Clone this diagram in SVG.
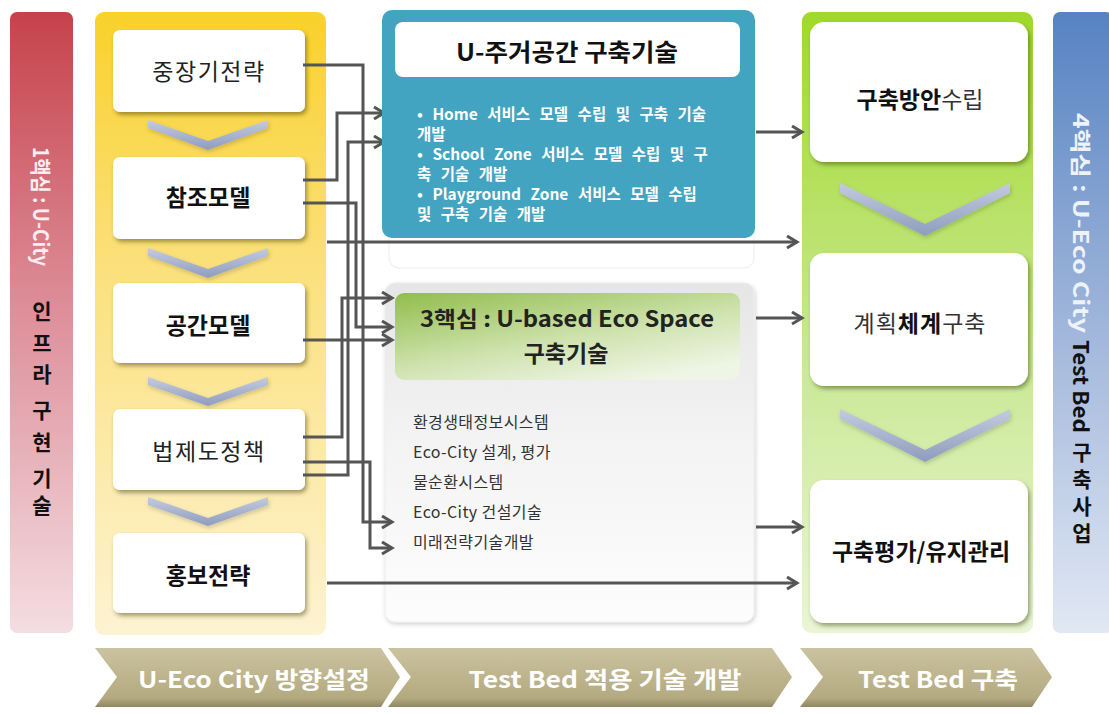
<svg xmlns="http://www.w3.org/2000/svg" width="1109" height="714" viewBox="0 0 1109 714">
<defs>
<linearGradient id="gRed" x1="0" y1="0" x2="0" y2="1"><stop offset="0" stop-color="#c6424b"/><stop offset="0.45" stop-color="#dc8a95"/><stop offset="1" stop-color="#f4dde2"/></linearGradient>
<linearGradient id="gBlueSide" x1="0" y1="0" x2="0" y2="1"><stop offset="0" stop-color="#5683c3"/><stop offset="0.5" stop-color="#9fb5da"/><stop offset="1" stop-color="#e1e8f4"/></linearGradient>
<linearGradient id="gYellow" x1="0" y1="0" x2="0" y2="1"><stop offset="0" stop-color="#f9d12a"/><stop offset="0.4" stop-color="#fbe07a"/><stop offset="1" stop-color="#fdf3d2"/></linearGradient>
<linearGradient id="gGreen" x1="0" y1="0" x2="0" y2="1"><stop offset="0" stop-color="#a0d928"/><stop offset="0.5" stop-color="#c5e78a"/><stop offset="1" stop-color="#eaf5d6"/></linearGradient>
<linearGradient id="gGray" x1="0" y1="0" x2="0" y2="1"><stop offset="0" stop-color="#e6e6e6"/><stop offset="0.5" stop-color="#f4f4f4"/><stop offset="1" stop-color="#fdfdfd"/></linearGradient>
<linearGradient id="gHead" x1="0" y1="0" x2="0.7" y2="1"><stop offset="0" stop-color="#91bd4b"/><stop offset="0.6" stop-color="#cfe3af"/><stop offset="1" stop-color="#eef5e4"/></linearGradient>
<linearGradient id="gV" x1="0" y1="0" x2="0" y2="1"><stop offset="0" stop-color="#c3cbe0"/><stop offset="1" stop-color="#8f9cbd"/></linearGradient>
<linearGradient id="gChev" x1="0" y1="0" x2="0" y2="1"><stop offset="0" stop-color="#cbc3a0"/><stop offset="0.85" stop-color="#b3aa80"/><stop offset="1" stop-color="#8f8762"/></linearGradient>
<filter id="sh" x="-10%" y="-10%" width="125%" height="130%"><feDropShadow dx="2" dy="3" stdDeviation="2" flood-color="#3a3000" flood-opacity="0.45"/></filter>
<filter id="shG" x="-10%" y="-10%" width="125%" height="130%"><feDropShadow dx="2" dy="3" stdDeviation="2" flood-color="#2a4000" flood-opacity="0.45"/></filter>
<filter id="shL" x="-10%" y="-10%" width="125%" height="130%"><feDropShadow dx="1" dy="2" stdDeviation="2" flood-color="#000" flood-opacity="0.18"/></filter>
<marker id="arr" markerUnits="userSpaceOnUse" markerWidth="14" markerHeight="16" refX="11" refY="7" orient="auto"><path d="M1,1 L11,7 L1,13" fill="none" stroke="#555" stroke-width="3"/></marker>
<style>
text{font-family:"Noto Sans CJK KR","Noto Sans",sans-serif}
.node{fill:#fff}
.nt{font-size:23px;fill:#222;text-anchor:middle;dominant-baseline:central}
.b{font-weight:bold;fill:#111}
.vv{fill:url(#gV)}
.conn{fill:none;stroke:#555;stroke-width:3}
.bul{font-size:15.5px;font-weight:bold;fill:#fff;word-spacing:6px}
.li{font-size:16px;fill:#333;letter-spacing:0.4px}
.side{font-size:21px;font-weight:bold;text-anchor:middle;fill:#111}
.vert{font-size:21px;font-weight:bold;fill:#111;writing-mode:vertical-rl;text-orientation:upright}
.chevT{font-size:23px;font-weight:bold;fill:#fff;text-anchor:middle;dominant-baseline:central}
</style>
</defs>
<rect width="1109" height="714" fill="#fff"/>

<g id="side-left">
<rect x="10" y="12" width="63" height="621" rx="7" fill="url(#gRed)"/>
<text transform="translate(42,147) rotate(90)" font-size="21" font-weight="bold" fill="#fbeef0" dominant-baseline="central" textLength="119" lengthAdjust="spacingAndGlyphs">1핵심 : U-City</text>
<text class="side" x="42" y="319"><tspan x="42">인</tspan><tspan x="42" dy="32">프</tspan><tspan x="42" dy="31">라</tspan><tspan x="42" dy="36">구</tspan><tspan x="42" dy="32">현</tspan><tspan x="42" dy="36">기</tspan><tspan x="42" dy="27">술</tspan></text>
</g>

<g id="side-right">
<rect x="1053" y="12" width="60" height="621" rx="7" fill="url(#gBlueSide)"/>
<text transform="translate(1082,113) rotate(90)" font-size="21" font-weight="bold" fill="#eef2f9" dominant-baseline="central" textLength="220" lengthAdjust="spacingAndGlyphs">4핵심 : U-Eco City</text>
<text transform="translate(1082,340) rotate(90)" font-size="21" font-weight="bold" fill="#111" dominant-baseline="central" textLength="93" lengthAdjust="spacingAndGlyphs">Test Bed</text>
<text class="vert" x="1082" y="442" letter-spacing="6">구축사업</text>
</g>

<g id="panel-yellow">
<rect x="95" y="12" width="231" height="623" rx="9" fill="url(#gYellow)"/>
<polygon class="vv" filter="url(#shL)" points="148,120 208,141 268,120 268,128 208,150 148,128"/>
<polygon class="vv" filter="url(#shL)" points="148,248 208,269 268,248 268,256 208,278 148,256"/>
<polygon class="vv" filter="url(#shL)" points="148,377 208,398 268,377 268,385 208,406 148,385"/>
<polygon class="vv" filter="url(#shL)" points="148,497 208,518 268,497 268,505 208,526 148,505"/>
</g>
<g id="n-midlong"><rect class="node" x="113" y="30" width="192" height="82" rx="7" filter="url(#sh)"/><text class="nt" x="209" y="70" letter-spacing="1.5" fill="#333">중장기전략</text></g>
<g id="n-ref"><rect class="node" x="113" y="157" width="192" height="82" rx="7" filter="url(#sh)"/><text class="nt b" x="208" y="196">참조모델</text></g>
<g id="n-space"><rect class="node" x="113" y="283" width="192" height="80" rx="7" filter="url(#sh)"/><text class="nt b" x="208" y="324">공간모델</text></g>
<g id="n-law"><rect class="node" x="113" y="409" width="192" height="81" rx="7" filter="url(#sh)"/><text class="nt" x="209" y="450" letter-spacing="1.5" fill="#333">법제도정책</text></g>
<g id="n-pr"><rect class="node" x="113" y="533" width="192" height="80" rx="7" filter="url(#sh)"/><text class="nt b" x="208" y="574">홍보전략</text></g>

<g id="panel-green">
<rect x="802" y="12" width="231" height="621" rx="9" fill="url(#gGreen)"/>
<polygon class="vv" filter="url(#shL)" points="840,183 925,224 1010,183 1010,193 925,236 840,193"/>
<polygon class="vv" filter="url(#shL)" points="840,409 925,450 1010,409 1010,419 925,462 840,419"/>
</g>
<g id="n-plan"><rect class="node" x="810" y="22" width="218" height="140" rx="14" filter="url(#shG)"/><text class="nt" x="920" y="98"><tspan font-weight="bold" fill="#111">구축방안</tspan><tspan fill="#333">수립</tspan></text></g>
<g id="n-system"><rect class="node" x="810" y="253" width="218" height="133" rx="14" filter="url(#shG)"/><text class="nt" x="920" y="322" letter-spacing="1"><tspan fill="#333">계획</tspan><tspan font-weight="bold" fill="#111">체계</tspan><tspan fill="#333">구축</tspan></text></g>
<g id="n-eval"><rect class="node" x="810" y="480" width="218" height="143" rx="14" filter="url(#shG)"/><text class="nt b" x="921" y="550">구축평가/유지관리</text></g>

<g id="box-eco">
<rect x="385" y="283" width="369" height="339" rx="10" fill="url(#gGray)" stroke="#ececec" filter="url(#shL)"/>
<rect x="395" y="293" width="345" height="87" rx="9" fill="url(#gHead)"/>
<text x="567" y="317" font-size="22" font-weight="bold" fill="#222" text-anchor="middle" dominant-baseline="central" textLength="294" lengthAdjust="spacingAndGlyphs">3핵심 : U-based Eco Space</text>
<text x="566" y="352" font-size="23" font-weight="bold" fill="#222" text-anchor="middle" dominant-baseline="central">구축기술</text>
<text class="li" x="413" y="428">환경생태정보시스템</text>
<text class="li" x="413" y="458">Eco-City 설계, 평가</text>
<text class="li" x="413" y="488">물순환시스템</text>
<text class="li" x="413" y="518">Eco-City 건설기술</text>
<text class="li" x="413" y="548">미래전략기술개발</text>
</g>
<rect x="389" y="16" width="365" height="252" rx="10" fill="#fff" stroke="#ededed"/>

<g id="connectors">
<path class="conn" marker-end="url(#arr)" d="M303,65 H363 V522 H392"/>
<path class="conn" marker-end="url(#arr)" d="M303,180 H337 V113 H384"/>
<path class="conn" marker-end="url(#arr)" d="M303,203 H356 V327 H392"/>
<path class="conn" marker-end="url(#arr)" d="M303,340 H392"/>
<path class="conn" marker-end="url(#arr)" d="M303,437 H342 V298 H392"/>
<path class="conn" marker-end="url(#arr)" d="M303,462 H370 V548 H392"/>
<path class="conn" marker-end="url(#arr)" d="M303,475 H348 V142 H384"/>
<path class="conn" marker-end="url(#arr)" d="M327,242 H797"/>
<path class="conn" marker-end="url(#arr)" d="M327,583 H797"/>
<path class="conn" marker-end="url(#arr)" d="M756,132 H802"/>
<path class="conn" marker-end="url(#arr)" d="M756,318 H802"/>
<path class="conn" marker-end="url(#arr)" d="M756,527 H802"/>
</g>

<g id="box-house">
<rect x="382" y="10" width="373" height="228" rx="10" fill="#42a4c1"/>
<rect x="395" y="22" width="345" height="55" rx="8" fill="#fff"/>
<text x="567" y="50" font-size="24" font-weight="bold" fill="#111" text-anchor="middle" dominant-baseline="central" textLength="222" lengthAdjust="spacingAndGlyphs">U-주거공간 구축기술</text>
<text class="bul" x="417" y="120">• Home 서비스 모델 수립 및 구축 기술</text>
<text class="bul" x="417" y="140">개발</text>
<text class="bul" x="417" y="160">• School Zone 서비스 모델 수립 및 구</text>
<text class="bul" x="417" y="180">축 기술 개발</text>
<text class="bul" x="417" y="200">• Playground Zone 서비스 모델 수립</text>
<text class="bul" x="417" y="220">및 구축 기술 개발</text>
</g>

<g id="phase-1">
<polygon points="95,648 381,648 400,677 381,707 95,707 117,677" fill="url(#gChev)"/>
<text class="chevT" x="254" y="678" textLength="232" lengthAdjust="spacingAndGlyphs">U-Eco City 방향설정</text>
</g>
<g id="phase-2">
<polygon points="388,648 772,648 792,677 772,707 388,707 411,677" fill="url(#gChev)"/>
<text class="chevT" x="605" y="678" textLength="273" lengthAdjust="spacingAndGlyphs">Test Bed 적용 기술 개발</text>
</g>
<g id="phase-3">
<polygon points="800,648 1032,648 1052,677 1032,707 800,707 823,677" fill="url(#gChev)"/>
<text class="chevT" x="938" y="678" textLength="160" lengthAdjust="spacingAndGlyphs">Test Bed 구축</text>
</g>
</svg>
